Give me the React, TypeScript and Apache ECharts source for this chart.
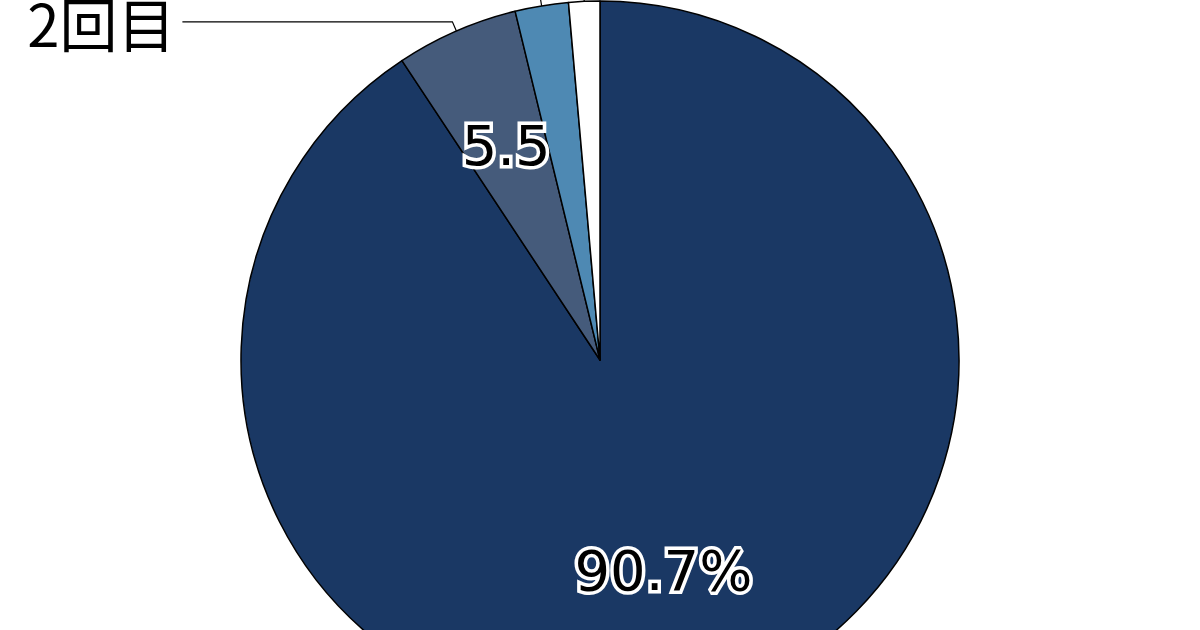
import React, { useEffect, useRef } from 'react';
import * as echarts from 'echarts';

// ---- data ----
const categories = ['1回目', '2回目', '3回目', '未接種'];
const values = [90.7, 5.5, 2.4, 1.4];
const valueLabels = ['90.7%', '5.5', '', ''];
// labels of the two thin slices lie above the visible area; only their leader lines show
const outerLabels = ['', '2回目', '', ''];
const outerLineShown = [false, true, true, true];

// ---- style / layout ----
const COLORS = ['#1a3864', '#455b7b', '#4e89b3', '#ffffff'];
const CENTER = [600, 360];
const RADIUS = 359;
const INNER_LABEL_FRACTION = [0.605, 0.645, 0.5, 0.5];
const LINE_LENGTH = [0, 10, 80, 80];
const LINE_LENGTH2 = [0, 270, 40, 40];

function midAngle(i: number): number {
  const total = values.reduce((a, b) => a + b, 0);
  let cum = 0;
  for (let k = 0; k < i; k++) cum += values[k];
  return ((cum + values[i] / 2) / total) * Math.PI * 2;
}

export default function App() {
  const ref = useRef<HTMLDivElement>(null);
  useEffect(() => {
    if (!ref.current) return;
    const chart = echarts.init(ref.current, undefined, { renderer: 'svg' });
    const option: any = {
      animation: false,
      backgroundColor: '#ffffff',
      series: [
        {
          type: 'pie',
          silent: true,
          center: CENTER,
          radius: [0, RADIUS],
          startAngle: 90,
          clockwise: true,
          avoidLabelOverlap: false,
          itemStyle: { borderColor: '#000', borderWidth: 1.5 },
          label: {
            position: 'inside',
            color: '#000',
            fontSize: 56,
            fontFamily: 'DejaVu Sans',
            textBorderColor: '#fff',
            textBorderWidth: 7,
          },
          labelLine: { show: false },
          labelLayout: (params: any) => {
            const i = params.dataIndex;
            const a = midAngle(i);
            const shift = (INNER_LABEL_FRACTION[i] - 0.5) * RADIUS;
            return { dx: shift * Math.sin(a), dy: -shift * Math.cos(a) };
          },
          data: categories.map((name, i) => ({
            name,
            value: values[i],
            itemStyle: { color: COLORS[i] },
            label: { show: valueLabels[i] !== '', formatter: valueLabels[i] },
          })),
        },
        {
          type: 'pie',
          silent: true,
          center: CENTER,
          radius: [0, RADIUS],
          startAngle: 90,
          clockwise: true,
          avoidLabelOverlap: false,
          itemStyle: { color: 'rgba(0,0,0,0)', borderWidth: 0 },
          label: {
            position: 'outside',
            color: '#000',
            fontSize: 58,
            fontFamily: 'Noto Sans CJK JP',
            distanceToLabelLine: 7,
          },
          labelLine: {
            show: true,
            smooth: false,
            lineStyle: { color: '#000', width: 1.2 },
          },
          data: categories.map((name, i) => ({
            name,
            value: values[i],
            label: { show: outerLineShown[i], formatter: outerLabels[i] },
            labelLine: {
              show: outerLineShown[i],
              length: LINE_LENGTH[i],
              length2: LINE_LENGTH2[i],
            },
          })),
        },
      ],
    };
    chart.setOption(option);
    return () => chart.dispose();
  }, []);
  return (
    <div
      ref={ref}
      style={{ position: 'fixed', left: 0, top: 0, width: 1200, height: 630 }}
    />
  );
}
